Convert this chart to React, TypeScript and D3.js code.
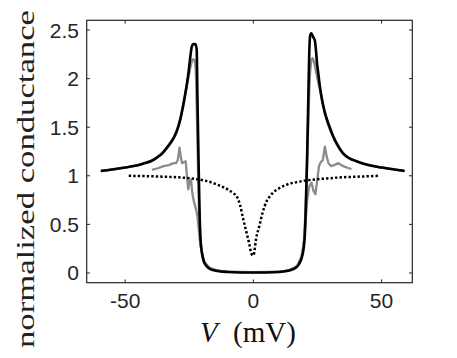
import React from "react";
import * as d3 from "d3";

// ---------- data ----------
const X_TICKS = [-50, 0, 50];
const Y_TICKS = [0, 0.5, 1, 1.5, 2, 2.5];
const Y_TICK_LABELS = ["0", "0.5", "1", "1.5", "2", "2.5"];
const X_TICK_LABELS = ["-50", "0", "50"];

// black theory curve
const V_BLACK = [
  -59.5, -55, -50, -46.7, -43, -40, -38, -35.5, -33.7, -32, -30, -28.5, -27.2, -26.2, -25.3, -24.6,
  -24.0, -23.4, -22.6, -22.1, -21.8, -21.4, -21.0, -20.6, -20.0, -19.3, -18.2, -16.8, -14, -10, -5, 0,
  5, 10, 14, 16.9, 18.0, 18.8, 19.6, 20.1, 20.6, 21.0, 21.4, 21.8, 22.2, 22.6, 23.3, 24.0, 24.4, 24.8,
  25.4, 25.9, 26.8, 27.9, 29.5, 31.1, 33, 35, 37.5, 40.2, 43, 46.7, 50, 55, 59,
];
const G_BLACK = [
  1.05, 1.065, 1.085, 1.1, 1.125, 1.15, 1.18, 1.23, 1.29, 1.35, 1.45, 1.58, 1.75, 1.9, 2.06, 2.22,
  2.33, 2.355, 2.355, 2.3, 1.8, 1.2, 0.65, 0.35, 0.2, 0.12, 0.07, 0.04, 0.02, 0.01, 0.005, 0.005,
  0.005, 0.01, 0.025, 0.06, 0.1, 0.15, 0.25, 0.4, 0.8, 1.23, 1.75, 2.26, 2.45, 2.465, 2.43, 2.39, 2.3, 2.17,
  2.04, 1.93, 1.78, 1.65, 1.52, 1.41, 1.31, 1.23, 1.18, 1.15, 1.125, 1.1, 1.085, 1.065, 1.05,
];

// grey measured curve (large gap)
const V_GREY = [
  -59.5, -50, -43, -38, -33.7, -30, -27.2, -25.3, -24.3, -23.5, -22.8, -22.3, -21.9, -21.4, -20.8, -20.0,
  -19.0, -17, -14, -10, 0, 10, 14, 17, 18.8, 19.8, 20.5, 21.2, 21.8, 22.4, 23.0, 23.6, 24.3, 25.0, 25.9,
  27.9, 31.1, 35, 40.2, 46.7, 50, 59,
];
const G_GREY = [
  1.05, 1.085, 1.125, 1.18, 1.29, 1.45, 1.74, 2.02, 2.15, 2.2, 2.18, 2.0, 1.5, 0.9, 0.4, 0.2,
  0.1, 0.05, 0.025, 0.012, 0.008, 0.012, 0.03, 0.07, 0.17, 0.35, 0.75, 1.35, 1.9, 2.15, 2.21, 2.18, 2.1, 2.0, 1.9,
  1.64, 1.4, 1.23, 1.15, 1.1, 1.085, 1.05,
];

// grey measured curve with sub-gap structure
const V_WIGGLE = [
  -39.5, -37, -35, -33, -31.1, -30.2, -29.5, -28.8, -28.2, -27.8, -27.2, -26.4, -25.9, -25.4, -24.8, -24.3,
  -23.8, -23.3, -22.4, -21.8, -21.3, -20.8, -20.0, -19.0, -17, -14, -10, 0, 10, 14, 17, 18.8, 19.8, 20.3,
  21.0, 21.8, 22.7, 23.4, 24.2, 25.0, 25.6, 26.3, 27.1, 27.9, 28.6, 29.3, 30.3, 31.5, 33.1, 35.0, 37, 38.3,
];
const G_WIGGLE = [
  1.06, 1.08, 1.1, 1.11, 1.13, 1.13, 1.16, 1.29, 1.18, 1.13, 1.14, 1.15, 1.0, 0.86, 0.95, 0.96,
  0.82, 0.75, 0.66, 0.58, 0.45, 0.32, 0.19, 0.11, 0.05, 0.025, 0.012, 0.008, 0.012, 0.03, 0.07, 0.17, 0.33, 0.5,
  0.75, 0.89, 0.93, 0.85, 0.81, 0.97, 1.1, 1.14, 1.16, 1.3, 1.2, 1.13, 1.1, 1.11, 1.13, 1.1, 1.08, 1.07,
];

// dotted normal-state curve
const V_DOT = [
  -48.6, -40, -30, -25, -22, -18, -14.2, -12.3, -10, -7.8, -6.5, -5.2, -3.9, -2.6, -1.6, -0.6, 0,
  0.4, 1.0, 2.3, 3.6, 5.2, 6.5, 7.8, 10, 14.3, 17, 20, 25, 29.8, 35, 40, 49.3,
];
const G_DOT = [
  1.0, 0.995, 0.985, 0.975, 0.965, 0.945, 0.91, 0.89, 0.86, 0.82, 0.79, 0.7, 0.55, 0.41, 0.3, 0.19, 0.18,
  0.22, 0.34, 0.48, 0.62, 0.74, 0.79, 0.83, 0.87, 0.92, 0.935, 0.95, 0.965, 0.975, 0.985, 0.99, 1.0,
];

// ---------- layout ----------
const W = 457;
const H = 358;
const L = 86.7, R = 412.3, T = 20.3, B = 282.7;
const AX = "#262626";

export default function App() {
  const x = d3.scaleLinear().domain([-65, 62]).range([L, R]);
  const y = d3.scaleLinear().domain([-0.1, 2.6]).range([B, T]);

  const mk = (vs: number[], gs: number[], curve: d3.CurveFactory) =>
    d3
      .line<number>()
      .x((_, i) => x(vs[i]))
      .y((_, i) => y(gs[i]))
      .curve(curve)(vs.map((_, i) => i)) || "";

  const blackPath = mk(V_BLACK, G_BLACK, d3.curveMonotoneX);
  const greyPath = mk(V_GREY, G_GREY, d3.curveMonotoneX);
  const wigglePath = mk(V_WIGGLE, G_WIGGLE, d3.curveLinear);
  const dotPath = mk(V_DOT, G_DOT, d3.curveMonotoneX);

  const tickLen = 3.3;

  return (
    <svg
      width={W}
      height={H}
      style={{ position: "absolute", left: 0, top: 0, background: "#fff" }}
    >
      <rect x={0} y={0} width={W} height={H} fill="#fff" />
      {/* curves */}
      <path d={greyPath} fill="none" stroke="#8c8c8c" strokeWidth={2.5} strokeLinejoin="round" />
      <path d={wigglePath} fill="none" stroke="#8c8c8c" strokeWidth={2.3} strokeLinejoin="round" />
      <path d={blackPath} fill="none" stroke="#000" strokeWidth={2.6} strokeLinejoin="round" />
      <path d={dotPath} fill="none" stroke="#000" strokeWidth={2.5} strokeDasharray="2.4 2.1" />

      {/* box */}
      <rect x={L} y={T} width={R - L} height={B - T} fill="none" stroke={AX} strokeWidth={1.2} />

      {/* x ticks */}
      {X_TICKS.map((t, i) => (
        <g key={"xt" + i}>
          <line x1={x(t)} x2={x(t)} y1={B} y2={B - tickLen} stroke={AX} strokeWidth={1} />
          <line x1={x(t)} x2={x(t)} y1={T} y2={T + tickLen} stroke={AX} strokeWidth={1} />
          <text
            x={x(t)}
            y={308.3}
            textAnchor="middle"
            fontFamily="'Liberation Sans', Arial, sans-serif"
            fontSize={21}
            fill={AX}
          >
            {X_TICK_LABELS[i]}
          </text>
        </g>
      ))}

      {/* y ticks */}
      {Y_TICKS.map((t, i) => (
        <g key={"yt" + i}>
          <line x1={L} x2={L + tickLen} y1={y(t)} y2={y(t)} stroke={AX} strokeWidth={1} />
          <line x1={R} x2={R - tickLen} y1={y(t)} y2={y(t)} stroke={AX} strokeWidth={1} />
          <text
            x={79}
            y={y(t)}
            textAnchor="end"
            dominantBaseline="central"
            fontFamily="'Liberation Sans', Arial, sans-serif"
            fontSize={21}
            fill={AX}
          >
            {Y_TICK_LABELS[i]}
          </text>
        </g>
      ))}

      {/* x label */}
      <text
        x={200}
        y={341.7}
        fontFamily="'Liberation Serif', 'Times New Roman', serif"
        fontSize={29}
        fill="#111"
      >
        <tspan fontStyle="italic">V</tspan>
        <tspan x={233}>(mV)</tspan>
      </text>

      {/* y label */}
      <text
        transform="translate(33.5,179) rotate(-90)"
        textAnchor="middle"
        fontFamily="'Liberation Serif', 'Times New Roman', serif"
        fontSize={25}
        fill="#222"
        textLength={338}
        lengthAdjust="spacingAndGlyphs"
      >
        normalized conductance
      </text>
    </svg>
  );
}
